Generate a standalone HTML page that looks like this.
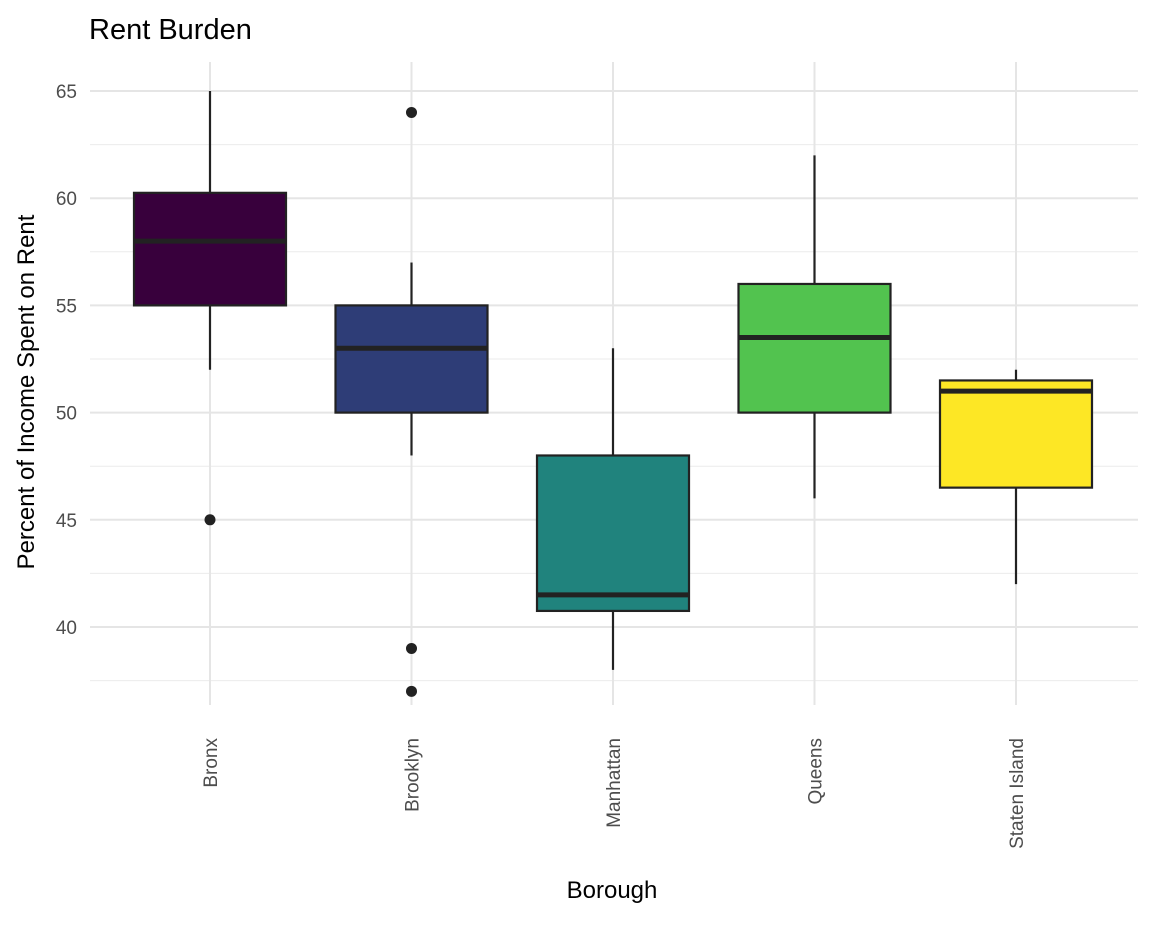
<!DOCTYPE html>
<html><head><meta charset="utf-8"><style>
body{margin:0;background:#fff;font-family:"Liberation Sans",Arial,sans-serif}
</style></head><body>
<svg id="chart" width="1152" height="921" xmlns="http://www.w3.org/2000/svg" font-family="Liberation Sans, Arial, sans-serif">
<text x="89" y="39" font-size="29" fill="#000">Rent Burden</text>
<g id="grid"></g><g id="boxes"></g><g id="axes"></g>
<text x="612" y="898" font-size="24" text-anchor="middle" fill="#000">Borough</text>
<text transform="translate(34,392) rotate(-90)" font-size="24" text-anchor="middle" fill="#000">Percent of Income Spent on Rent</text>
</svg>
<script>
const categories=["Bronx","Brooklyn","Manhattan","Queens","Staten Island"];
const whiskerLow=[52,48,38,46,42];
const q1=[55,50,40.75,50,46.5];
const medians=[58,53,41.5,53.5,51];
const q3=[60.25,55,48,56,51.5];
const whiskerHigh=[65,57,53,62,52];
const outliers=[[45],[64,39,37],[],[],[]];
const colors=["#38003c","#2e3d77","#20837d","#52c34f","#fde725"];
const yTicks=[40,45,50,55,60,65];
const yMinor=[37.5,42.5,47.5,52.5,57.5,62.5];
const NS="http://www.w3.org/2000/svg";
const y=v=>627-(v-40)*(627-91)/25;
const x=i=>210+i*201.5;
const L=90,R=1138,T=62,B=705,bw=152;
function mk(tag,at,parent){const e=document.createElementNS(NS,tag);for(const k in at)e.setAttribute(k,at[k]);parent.appendChild(e);return e;}
const grid=document.getElementById('grid'),boxes=document.getElementById('boxes'),axes=document.getElementById('axes');
yMinor.forEach(v=>{const e=mk('line',{x1:L,x2:R,y1:y(v),y2:y(v),stroke:'#ebebeb','stroke-width':1},grid);

});
yTicks.forEach(v=>{const e=mk('line',{x1:L,x2:R,y1:y(v),y2:y(v),stroke:'#e5e5e5','stroke-width':2},grid);


const t=mk('text',{x:77,y:y(v)+7,'font-size':19,'text-anchor':'end',fill:'#4d4d4d'},axes);t.textContent=v;

});
categories.forEach((c,i)=>{const e=mk('line',{x1:x(i),x2:x(i),y1:T,y2:B,stroke:'#e5e5e5','stroke-width':2},grid);


const t=mk('text',{transform:`translate(${x(i)+7},738) rotate(-90)`,'font-size':19,'text-anchor':'end',fill:'#4d4d4d'},axes);t.textContent=c;


const g=mk('g',{},boxes);


mk('line',{x1:x(i),x2:x(i),y1:y(whiskerLow[i]),y2:y(q1[i]),stroke:'#222','stroke-width':2.2},g);
mk('line',{x1:x(i),x2:x(i),y1:y(q3[i]),y2:y(whiskerHigh[i]),stroke:'#222','stroke-width':2.2},g);
mk('rect',{x:x(i)-bw/2,y:y(q3[i]),width:bw,height:y(q1[i])-y(q3[i]),fill:colors[i],stroke:'#222','stroke-width':2.2},g);
mk('line',{x1:x(i)-bw/2,x2:x(i)+bw/2,y1:y(medians[i]),y2:y(medians[i]),stroke:'#222','stroke-width':5},g);
outliers[i].forEach(o=>{const p=mk('circle',{cx:x(i),cy:y(o),r:5.5,fill:'#222'},g);

});
});
</script>
</body></html>
